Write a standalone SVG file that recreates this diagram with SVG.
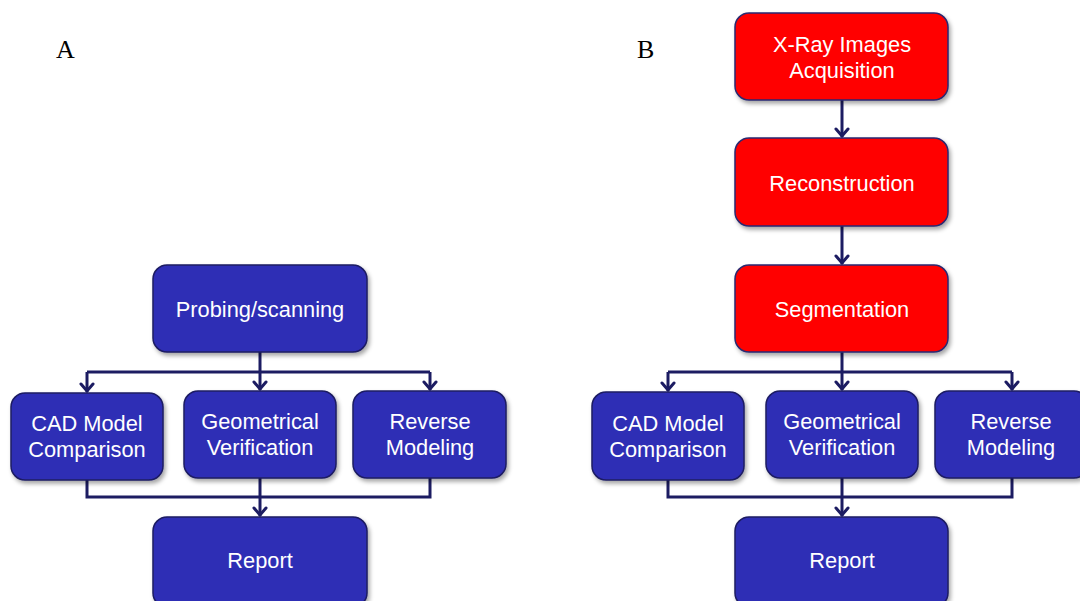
<svg xmlns="http://www.w3.org/2000/svg" width="1080" height="601" viewBox="0 0 1080 601">
<defs>
<filter id="sh" x="-10%" y="-10%" width="130%" height="130%">
<feDropShadow dx="2" dy="3" stdDeviation="2" flood-color="#000" flood-opacity="0.35"/>
</filter>
<marker id="chev" viewBox="-8 -10 16 12" refX="0" refY="0" markerWidth="16" markerHeight="12" markerUnits="userSpaceOnUse" orient="0">
<path d="M-6,-8 L0,-1 L6,-8" fill="none" stroke="#1c1c62" stroke-width="3" stroke-linecap="round" stroke-linejoin="miter"/>
</marker>
</defs>
<style>
.blue{fill:#2f2db5;stroke:#1c1c62;stroke-width:1.5;filter:url(#sh)}
.red{fill:#ff0000;stroke:#2a2a70;stroke-width:1.5;filter:url(#sh)}
.t{font-family:"Liberation Sans",Arial,sans-serif;font-size:21.8px;fill:#ffffff;text-anchor:middle}
.lbl{font-family:"Liberation Serif","Times New Roman",serif;font-size:26px;fill:#000}
.c{fill:none;stroke:#1c1c62;stroke-width:3;stroke-linejoin:miter}
.a{marker-end:url(#chev)}
</style>
<text class="lbl" x="56" y="58">A</text>
<text class="lbl" x="637" y="58">B</text>

<g id="connectors">
<path class="c" d="M260,352 V372"/>
<path class="c" d="M87,372 H430"/>
<path class="c a" d="M87,372 V392"/>
<path class="c a" d="M260,372 V390"/>
<path class="c a" d="M430,372 V390"/>
<path class="c" d="M87,480 V497 H430 V478"/>
<path class="c a" d="M260,478 V516"/>
<path class="c a" d="M842,100 V137"/>
<path class="c a" d="M842,226 V264"/>
<path class="c" d="M842,352 V372"/>
<path class="c" d="M668,372 H1012"/>
<path class="c a" d="M668,372 V391"/>
<path class="c a" d="M842,372 V390"/>
<path class="c a" d="M1012,372 V390"/>
<path class="c" d="M668,480 V497 H1012 V478"/>
<path class="c a" d="M842,478 V516"/>
</g>

<g id="a-probing">
<rect class="blue" x="153" y="265" width="214" height="87" rx="14"/>
<text class="t" x="260" y="317">Probing/scanning</text>
</g>
<g id="a-cad">
<rect class="blue" x="11" y="393" width="152" height="87" rx="14"/>
<text class="t" x="87" y="431">CAD Model</text>
<text class="t" x="87" y="457">Comparison</text>
</g>
<g id="a-geom">
<rect class="blue" x="184" y="391" width="152" height="87" rx="14"/>
<text class="t" x="260" y="429">Geometrical</text>
<text class="t" x="260" y="455">Verification</text>
</g>
<g id="a-reverse">
<rect class="blue" x="353" y="391" width="153" height="87" rx="14"/>
<text class="t" x="430" y="429">Reverse</text>
<text class="t" x="430" y="455">Modeling</text>
</g>
<g id="a-report">
<rect class="blue" x="153" y="517" width="214" height="90" rx="14"/>
<text class="t" x="260" y="568">Report</text>
</g>

<g id="b-xray">
<rect class="red" x="735" y="13" width="213" height="87" rx="14"/>
<text class="t" x="842" y="52">X-Ray Images</text>
<text class="t" x="842" y="78">Acquisition</text>
</g>
<g id="b-recon">
<rect class="red" x="735" y="138" width="213" height="88" rx="14"/>
<text class="t" x="842" y="191">Reconstruction</text>
</g>
<g id="b-seg">
<rect class="red" x="735" y="265" width="213" height="87" rx="14"/>
<text class="t" x="842" y="317">Segmentation</text>
</g>
<g id="b-cad">
<rect class="blue" x="592" y="392" width="152" height="88" rx="14"/>
<text class="t" x="668" y="431">CAD Model</text>
<text class="t" x="668" y="457">Comparison</text>
</g>
<g id="b-geom">
<rect class="blue" x="766" y="391" width="152" height="87" rx="14"/>
<text class="t" x="842" y="429">Geometrical</text>
<text class="t" x="842" y="455">Verification</text>
</g>
<g id="b-reverse">
<rect class="blue" x="935" y="391" width="153" height="87" rx="14"/>
<text class="t" x="1011" y="429">Reverse</text>
<text class="t" x="1011" y="455">Modeling</text>
</g>
<g id="b-report">
<rect class="blue" x="735" y="517" width="213" height="90" rx="14"/>
<text class="t" x="842" y="568">Report</text>
</g>
</svg>
